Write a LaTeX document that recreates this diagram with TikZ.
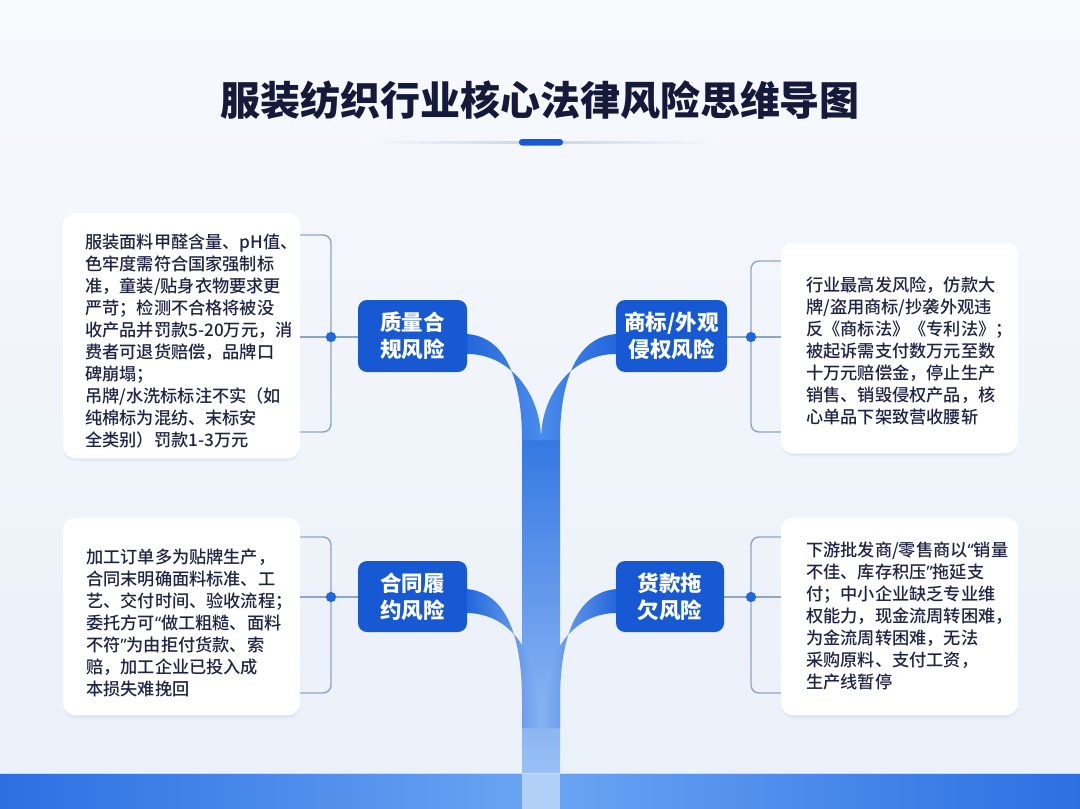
\documentclass[tikz,border=0pt]{standalone}
\usepackage{fontspec}
\setmainfont{Noto Sans CJK SC}
\newfontfamily\mediumfam{Noto Sans CJK SC Medium}
\newfontfamily\blackfam{Noto Sans CJK SC Black}
\newfontfamily\latinq{Noto Sans}
\usepackage{tikz}
\usetikzlibrary{shadows}
\usepackage{xcolor}
\definecolor{bgtop}{HTML}{F7F9FD}
\definecolor{bgbot}{HTML}{EAF0F9}
\definecolor{titlenavy}{HTML}{161A3A}
\definecolor{textnavy}{HTML}{1F2447}
\definecolor{topicblue}{HTML}{1659D2}
\definecolor{linegray}{HTML}{8FA5C8}
\definecolor{dotblue}{HTML}{1F67DC}
\definecolor{branchdark}{HTML}{2266DC}
\definecolor{branchlight}{HTML}{4A8BEA}
\definecolor{trunktop}{HTML}{3478E3}
\definecolor{trunkmid}{HTML}{69A0EE}
\definecolor{trunkbot}{HTML}{A4C7F7}
\definecolor{joinlight}{HTML}{86B3F2}
\definecolor{bandblue}{HTML}{2B6FE2}
\definecolor{bandlight}{HTML}{6BA5F3}
\definecolor{rulegray}{HTML}{C6D4EA}

\newcommand\titlefont{\blackfam\fontsize{40}{48}\selectfont}
\newcommand\topicfont{\fontsize{21.5}{27}\selectfont\bfseries}
\newcommand\bodyfont{\mediumfam\fontsize{17.2}{22}\selectfont}
\newcommand\openq{{\latinq “}}
\newcommand\closeq{{\latinq ”}}

\tikzset{
  card/.style={fill=white, draw=white, rounded corners=12pt,
    drop shadow={shadow xshift=0pt, shadow yshift=-3pt, opacity=0.12, fill=linegray}},
  topic/.style={fill=topicblue, rounded corners=9pt, text=white, font=\topicfont,
    align=center, inner sep=0pt},
  bodytext/.style={anchor=west, align=left, text=textnavy, font=\bodyfont, inner sep=0pt},
  bracket/.style={draw=linegray, line width=1.4pt, rounded corners=8pt},
  hub/.style={circle, fill=dotblue, inner sep=0pt, minimum size=10pt},
}

\begin{document}
\begin{tikzpicture}[x=1pt, y=-1pt]
\useasboundingbox (0,0) rectangle (1080,809);
% Background
\shade[top color=bgtop, bottom color=bgbot] (0,0) rectangle (1080,809);

% Title and divider
\node[font=\titlefont, text=titlenavy] (title) at (540,100) {服装纺织行业核心法律风险思维导图};
\shade[left color=bgtop, right color=bgtop, middle color=rulegray] (365,141) rectangle (720,143.5);
\fill[topicblue, rounded corners=3pt] (519,139) rectangle (563,145.5);

% Trunk
\shade[top color=trunktop, middle color=trunkmid, bottom color=trunkbot] (522,436) rectangle (560,809);

% Upper branches
\shade[left color=branchdark, right color=branchlight]
  (466,334) .. controls (506,336) and (522,380) .. (522,440)
  -- (541,440) .. controls (541,392) and (508,353) .. (466,354) -- cycle;
\shade[left color=branchlight, right color=branchdark]
  (617,334) .. controls (577,336) and (560,380) .. (560,440)
  -- (541,440) .. controls (541,392) and (575,353) .. (617,354) -- cycle;

% Lower branches
\shade[left color=branchdark, right color=joinlight]
  (466,589) .. controls (508,592) and (522,640) .. (522,700)
  -- (522,728) -- (541,728) .. controls (541,652) and (510,613) .. (466,613) -- cycle;
\shade[left color=joinlight, right color=branchdark]
  (617,589) .. controls (575,592) and (560,640) .. (560,700)
  -- (560,728) -- (541,728) .. controls (541,652) and (573,613) .. (617,613) -- cycle;

% Bottom band
\shade[left color=bandblue, right color=bandblue, middle color=bandlight] (0,773) rectangle (1080,809);
\fill[trunkbot!85!white] (522,773) rectangle (560,809);
\draw[white!60!bandlight, line width=1pt] (0,773) -- (1080,773);

% Brackets
\draw[bracket] (295,235) -- (331,235) -- (331,432) -- (295,432);
\draw[bracket] (786,261) -- (751,261) -- (751,432) -- (786,432);
\draw[bracket] (295,537) -- (331,537) -- (331,693) -- (295,693);
\draw[bracket] (786,537) -- (751,537) -- (751,693) -- (786,693);

% Cards
\node[card, minimum width=237pt, minimum height=245pt] (qcard) at (181.5,335.5) {};
\node[card, minimum width=237pt, minimum height=210pt] (tcard) at (899.5,348) {};
\node[card, minimum width=237pt, minimum height=197pt] (ccard) at (181.5,616.5) {};
\node[card, minimum width=237pt, minimum height=197pt] (pcard) at (899.5,616.5) {};

% Topic boxes
\node[topic, minimum width=109pt, minimum height=72pt] (qbox) at (412.5,336) {质量合\\规风险};
\node[topic, minimum width=111pt, minimum height=72pt] (tbox) at (671.5,336) {商标/外观\\侵权风险};
\node[topic, minimum width=109pt, minimum height=71pt] (cbox) at (412.5,596.5) {合同履\\约风险};
\node[topic, minimum width=108pt, minimum height=71pt] (pbox) at (670,596.5) {货款拖\\欠风险};

% Hubs and links
\node[hub] (qhub) at (331,337) {};
\node[hub] (thub) at (751,337) {};
\node[hub] (chub) at (331,597) {};
\node[hub] (phub) at (751,597) {};
\draw[draw=linegray, line width=1.4pt] (qcard.east |- qhub) -- (qhub) -- (qbox.west |- qhub);
\draw[draw=linegray, line width=1.4pt] (tbox.east |- thub) -- (thub) -- (tcard.west |- thub);
\draw[draw=linegray, line width=1.4pt] (ccard.east |- chub) -- (chub) -- (cbox.west |- chub);
\draw[draw=linegray, line width=1.4pt] (pbox.east |- phub) -- (phub) -- (pcard.west |- phub);
\node[hub] at (qhub) {};
\node[hub] at (thub) {};
\node[hub] at (chub) {};
\node[hub] at (phub) {};

% Card texts
\node[bodytext] (qtext) at (85,341) {服装面料甲醛含量、pH值、\\色牢度需符合国家强制标\\准，童装/贴身衣物要求更\\严苛；检测不合格将被没\\收产品并罚款5-20万元，消\\费者可退货赔偿，品牌口\\碑崩塌；\\吊牌/水洗标标注不实（如\\纯棉标为混纺、末标安\\全类别）罚款1-3万元};
\node[bodytext] (ttext) at (806,351) {行业最高发风险，仿款大\\牌/盗用商标/抄袭外观违\\反《商标法》《专利法》；\\被起诉需支付数万元至数\\十万元赔偿金，停止生产\\销售、销毁侵权产品，核\\心单品下架致营收腰斩};
\node[bodytext] (ctext) at (86,623) {加工订单多为贴牌生产，\\合同末明确面料标准、工\\艺、交付时间、验收流程；\\委托方可\openq 做工粗糙、面料\\不符\closeq 为由拒付货款、索\\赔，加工企业已投入成\\本损失难挽回};
\node[bodytext] (ptext) at (806,616) {下游批发商/零售商以\openq 销量\\不佳、库存积压\closeq 拖延支\\付；中小企业缺乏专业维\\权能力，现金流周转困难，\\为金流周转困难，无法\\采购原料、支付工资，\\生产线暂停};
\end{tikzpicture}
\end{document}
